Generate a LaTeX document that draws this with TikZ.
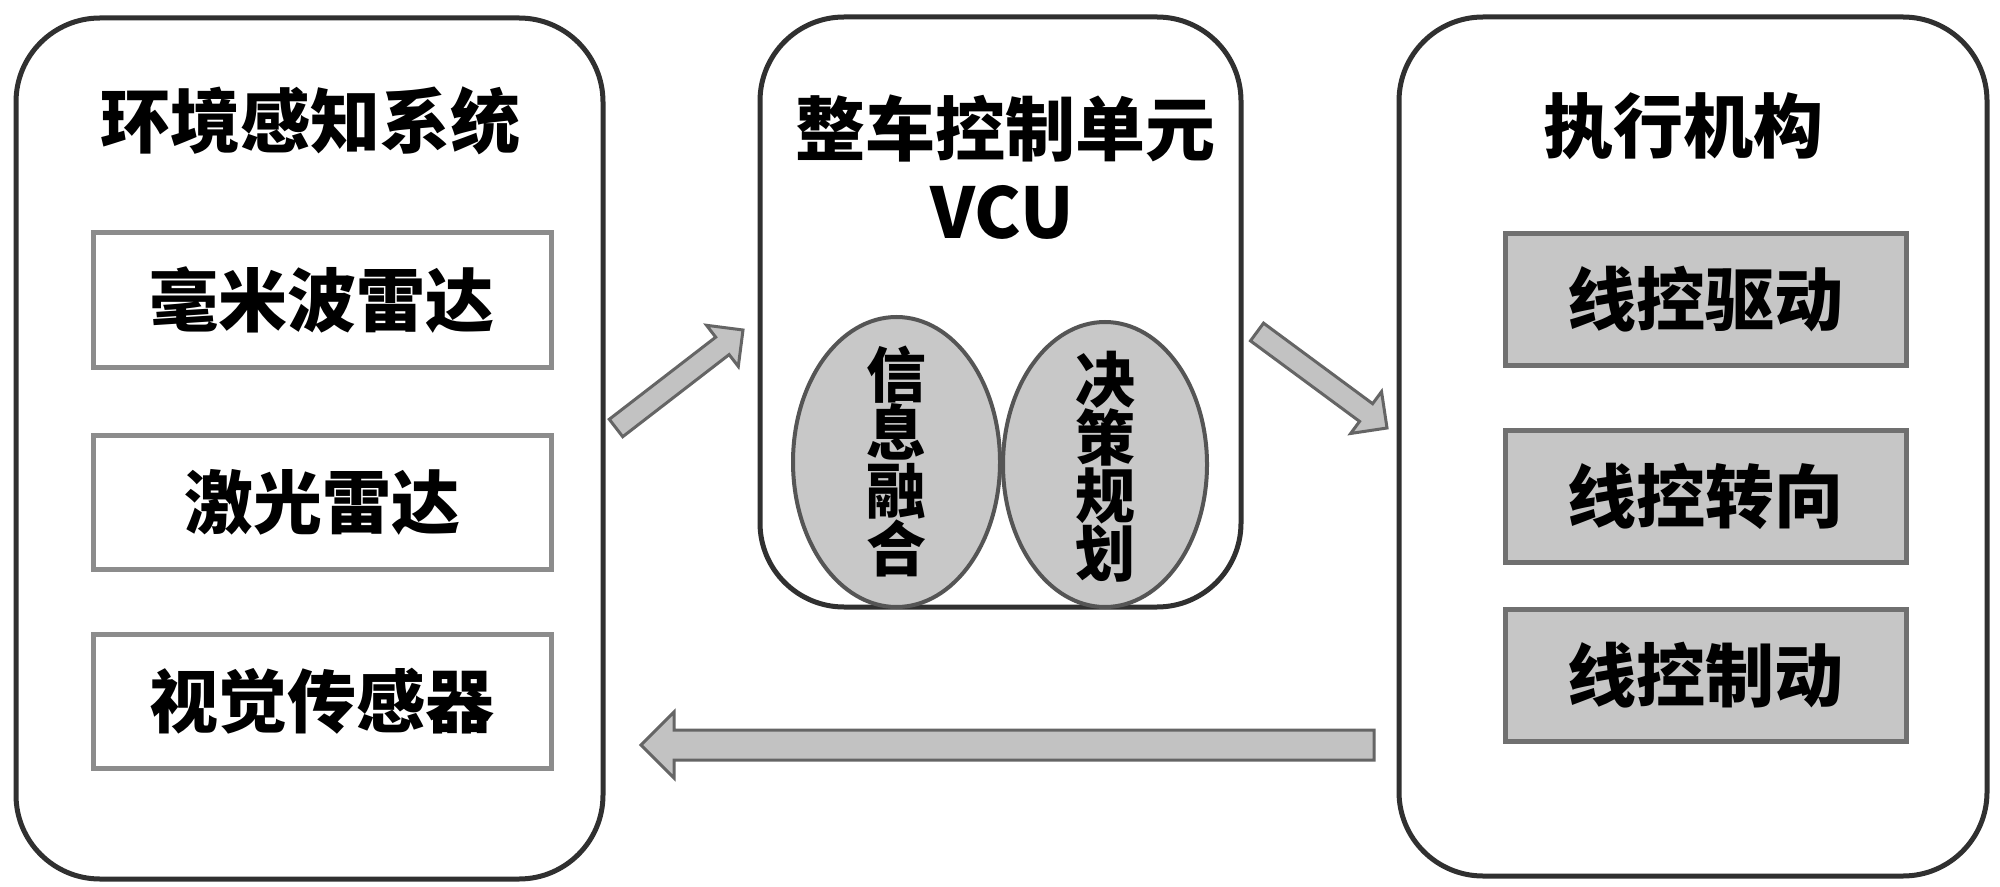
\documentclass[tikz,border=0pt]{standalone}
\usepackage{fontspec}
\newfontfamily\cjk{Noto Sans CJK SC}
\usetikzlibrary{shapes.geometric,calc}
\definecolor{boxline}{HTML}{303030}
\definecolor{subline}{HTML}{8C8C8C}
\definecolor{actline}{HTML}{707070}
\definecolor{actfill}{HTML}{C6C6C6}
\definecolor{ellfill}{HTML}{C8C8C8}
\definecolor{elline}{HTML}{555555}
\definecolor{arrfill}{HTML}{C2C2C2}
\definecolor{arrline}{HTML}{656565}
\tikzset{
  bigbox/.style={draw=boxline, line width=2.5pt, rounded corners=42pt, fill=white, inner sep=0pt},
  titletext/.style={inner sep=0pt, font=\cjk\bfseries\fontsize{35pt}{40pt}\selectfont},
  subbox/.style={draw=subline, line width=2.5pt, fill=white, inner sep=0pt,
     minimum width=229pt, minimum height=67pt, font=\cjk\bfseries\fontsize{34.5pt}{40pt}\selectfont},
  actbox/.style={subbox, draw=actline, fill=actfill, minimum width=200.5pt, minimum height=66pt},
  ellnode/.style={ellipse, draw=elline, line width=2pt, fill=ellfill, inner sep=0pt},
  elltext/.style={inner sep=0pt, align=center, font=\cjk\bfseries\fontsize{30pt}{29pt}\selectfont},
  blockarr/.style={draw=arrline, line width=1.5pt, fill=arrfill, line join=miter}
}
% #1 tail, #2 tip, #3 shaft half width, #4 head half width, #5 head length
\newcommand{\blockarrow}[5]{%
  \coordinate (hb#1) at ($(#2)!#5!(#1)$);
  \draw[blockarr] ($(#1)!#3!90:(#2)$) -- ($(hb#1)!#3!90:(#2)$) -- ($(hb#1)!#4!90:(#2)$) -- (#2)
    -- ($(hb#1)!#4!-90:(#2)$) -- ($(hb#1)!#3!-90:(#2)$) -- ($(#1)!#3!-90:(#2)$) -- cycle;
}
\begin{document}
\begin{tikzpicture}[x=0.5pt,y=-0.5pt]
\fill[white] (0,0) rectangle (2000,887);
\useasboundingbox (0,0) rectangle (2000,887);

% big boxes
\node[bigbox, minimum width=293.5pt, minimum height=430.5pt] (env) at (309.5,448.5) {};
\node[bigbox, minimum width=240.5pt, minimum height=295pt] (vcu) at (1000.5,312) {};
\node[bigbox, minimum width=294pt, minimum height=429.5pt] (act) at (1693,446.5) {};

% titles
\node[titletext] (envtitle) at (310,121) {环境感知系统};
\node[titletext] (vcutitle) at (1005,128) {整车控制单元};
\node[titletext] (vcuname) at (1002,212) {VCU};
\node[titletext] (acttitle) at (1683,126) {执行机构};

% sensors
\node[subbox] (radar) at (322,300) {毫米波雷达};
\node[subbox] (lidar) at (322,502) {激光雷达};
\node[subbox] (camera) at (322,701) {视觉传感器};

% actuators
\node[actbox] (drive) at (1705.5,299.5) {线控驱动};
\node[actbox] (steer) at (1705.5,496.5) {线控转向};
\node[actbox] (brake) at (1705.5,675) {线控制动};

% ellipses
\node[ellnode, minimum width=103.5pt, minimum height=145pt] (fusion) at (896.5,462) {};
\node[ellnode, minimum width=102pt, minimum height=142.5pt] (plan) at (1105,464.5) {};
\node[elltext] (fusiontext) at (fusion.center) {信\\息\\融\\合};
\node[elltext] (plantext) at ([yshift=-1pt]plan.center) {决\\策\\规\\划};

% arrows
\coordinate (a1t) at (616,428);
\coordinate (a1h) at (743,330);
\coordinate (a2t) at (1257,332);
\coordinate (a2h) at (1387,428);
\coordinate (a3t) at (1374,745);
\coordinate (a3h) at (641,745);
\blockarrow{a1t}{a1h}{5.5pt}{13pt}{13pt}
\blockarrow{a2t}{a2h}{5.5pt}{13pt}{13pt}
\blockarrow{a3t}{a3h}{7.5pt}{16.5pt}{16.5pt}
\end{tikzpicture}
\end{document}
